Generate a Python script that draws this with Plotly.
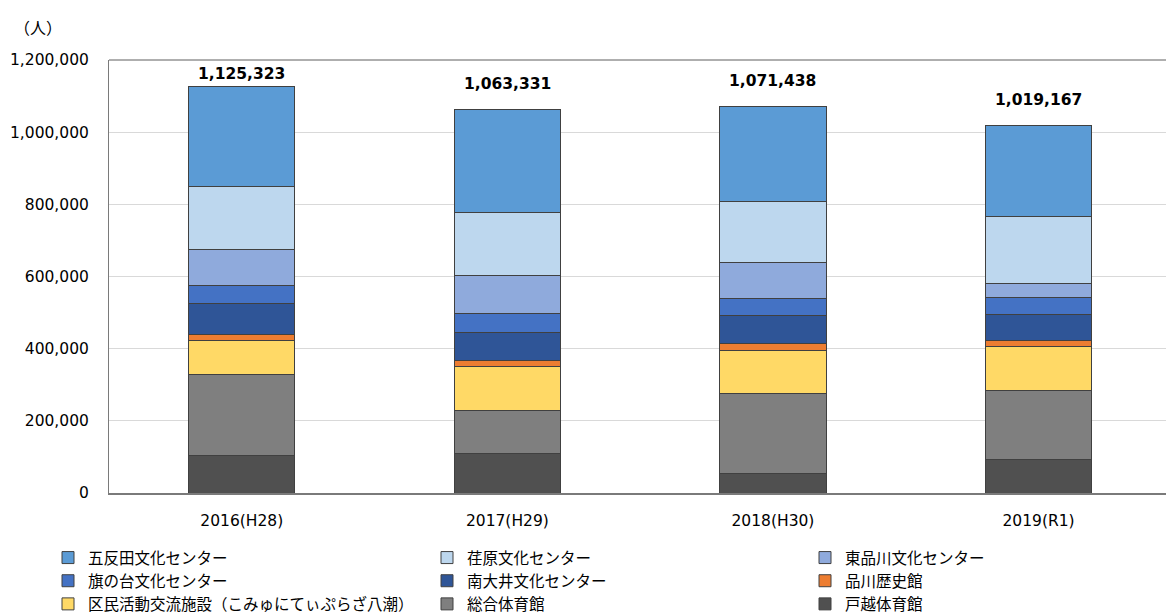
import plotly.graph_objects as go

# Fiscal years (Western year with Japanese era year)
years = ["2016(H28)", "2017(H29)", "2018(H30)", "2019(R1)"]

# Visitors per facility, listed from the bottom of each stack upward
togoshi = [104000, 110000, 54600, 93300]        # 戸越体育館
sogo = [225300, 120000, 221600, 192000]         # 総合体育館
kumin = [93200, 120000, 119100, 121900]         # 区民活動交流施設
rekishi = [17600, 18500, 19400, 16600]          # 品川歴史館
minamioi = [85900, 75700, 76400, 71100]         # 南大井文化センター
hatanodai = [48800, 53600, 48200, 48000]        # 旗の台文化センター
higashi = [98900, 105300, 100600, 37900]        # 東品川文化センター
ebara = [175400, 173500, 167000, 184600]        # 荏原文化センター
gotanda = [276223, 286731, 264538, 253767]      # 五反田文化センター

# (name, values, colour, legend column)
series = [
    ("戸越体育館", togoshi, "#505050", "legend3"),
    ("総合体育館", sogo, "#7F7F7F", "legend2"),
    ("区民活動交流施設（こみゅにてぃぷらざ八潮）", kumin, "#FFD966", "legend"),
    ("品川歴史館", rekishi, "#ED7D31", "legend3"),
    ("南大井文化センター", minamioi, "#2F5597", "legend2"),
    ("旗の台文化センター", hatanodai, "#4472C4", "legend"),
    ("東品川文化センター", higashi, "#8FAADC", "legend3"),
    ("荏原文化センター", ebara, "#BDD7EE", "legend2"),
    ("五反田文化センター", gotanda, "#5B9BD5", "legend"),
]

FONT = "DejaVu Sans, Noto Sans CJK JP, sans-serif"
JFONT = "Noto Sans CJK JP, DejaVu Sans, sans-serif"

fig = go.Figure()
for name, vals, color, leg in series:
    fig.add_trace(go.Bar(
        x=years, y=vals, name=name, width=0.4, legend=leg,
        marker=dict(color=color, line=dict(color="#404040", width=1)),
    ))

# Stack totals shown above each column (the first one is kept below the frame top)
totals = [sum(v[i] for _, v, _, _ in series) for i in range(len(years))]
label_shift = [2, 14, 14, 14]
for yr, tot, shift in zip(years, totals, label_shift):
    fig.add_annotation(
        x=yr, y=tot, text=f"<b>{tot:,}</b>", showarrow=False,
        yanchor="bottom", yshift=shift,
        font=dict(family=FONT, size=15.5, color="#000000"),
    )

# Unit label
fig.add_annotation(
    xref="paper", yref="paper", x=(12 - 109) / 1057, y=1 + (60 - 27) / 433,
    xanchor="left", yanchor="middle", text="（人）", showarrow=False,
    font=dict(family=JFONT, size=16, color="#000000"),
)

# Top border of the plot frame
fig.add_shape(type="line", xref="paper", yref="paper", x0=0, x1=1, y0=1, y1=1,
              line=dict(color="#5f5f5f", width=1))

legend_font = dict(family=JFONT, size=15.5, color="#000000")


def column_legend(x_px):
    return dict(
        orientation="v", traceorder="reversed",
        xref="container", yref="container",
        x=x_px / 1166, xanchor="left",
        y=1 - 541 / 614, yanchor="top",
        font=legend_font, itemwidth=30, bgcolor="rgba(0,0,0,0)",
    )


fig.update_layout(
    width=1166, height=614,
    barmode="stack",
    paper_bgcolor="white", plot_bgcolor="white",
    margin=dict(l=109, r=0, t=60, b=121, autoexpand=False),
    font=dict(family=FONT, size=15.5, color="#000000"),
    showlegend=True,
    legend=column_legend(48),
    legend2=column_legend(427),
    legend3=column_legend(805),
    xaxis=dict(
        type="category", range=[-0.5, 3.48],
        showline=True, linecolor="#7a7a7a", linewidth=2,
        showgrid=False, ticks="", ticklabelstandoff=12, tickangle=0,
        tickfont=dict(family=FONT, size=15.5, color="#000000"),
    ),
    yaxis=dict(
        range=[0, 1200000], dtick=200000, tickformat=",d",
        showline=True, linecolor="#7a7a7a", linewidth=1,
        showgrid=True, gridcolor="#D9D9D9", gridwidth=1,
        zeroline=False, ticks="", ticklabelstandoff=16,
        tickfont=dict(family=FONT, size=15.5, color="#000000"),
    ),
)

fig.write_html("out.html")
